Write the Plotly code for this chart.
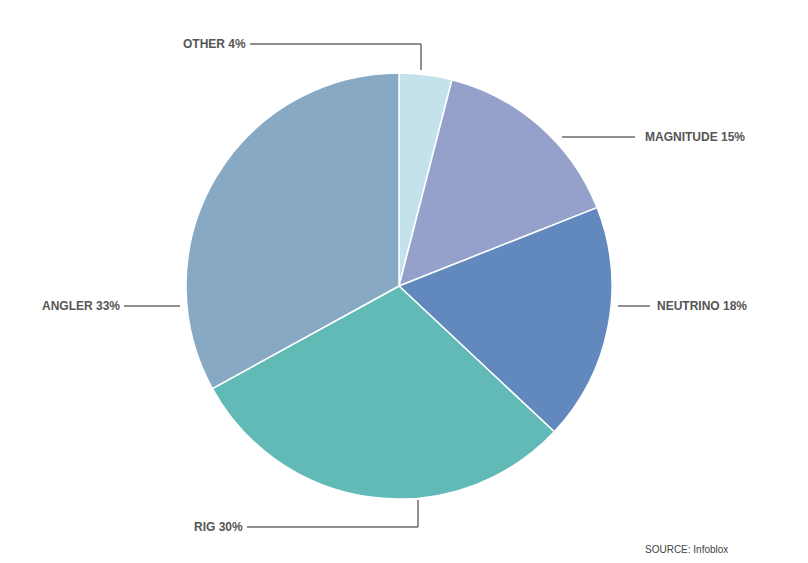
import plotly.graph_objects as go

labels = ["OTHER", "MAGNITUDE", "NEUTRINO", "RIG", "ANGLER"]
values = [4, 15, 18, 30, 33]
colors = ["#c4e2ec", "#96a1cb", "#6189bd", "#62bab6", "#87a9c3"]

# page body has an 8px margin, so the figure is 8px smaller and coordinates are shifted
OFF = 8
W, H = 808 - OFF, 563 - OFF
FONT = "Liberation Sans Narrow, Arial Narrow, sans-serif"
TXT = "#555555"
LINE = "#6a6a6a"

# Label layout (screen pixel coords): text anchor point, text alignment, leader polyline
label_layout = {
    "OTHER":     dict(tx=248, ty=44, anchor="right", path=[(250, 44), (421, 44), (421, 70)]),
    "MAGNITUDE": dict(tx=643, ty=137, anchor="left", path=[(562, 137), (635, 137)]),
    "NEUTRINO":  dict(tx=655, ty=306, anchor="left", path=[(618, 306), (650, 306)]),
    "RIG":       dict(tx=245, ty=527, anchor="right", path=[(247, 527), (418, 527), (418, 500)]),
    "ANGLER":    dict(tx=122, ty=306, anchor="right", path=[(124, 306), (180, 306)]),
}

def px(x):
    return (x - OFF) / W

def py(y):
    return 1 - (y - OFF) / H

cx, cy, r = 399, 286, 213

fig = go.Figure(go.Pie(
    labels=labels, values=values, sort=False, direction="clockwise", rotation=0,
    marker=dict(colors=colors, line=dict(color="white", width=1.5)),
    textinfo="none", hoverinfo="label+percent", showlegend=False,
    domain=dict(x=[px(cx - r), px(cx + r)], y=[py(cy + r), py(cy - r)]),
))

annotations = []
shapes = []
for lab, val in zip(labels, values):
    L = label_layout[lab]
    annotations.append(dict(
        x=px(L["tx"]), y=py(L["ty"]), xref="paper", yref="paper",
        text=f"<b>{lab} {val}%</b>", showarrow=False,
        xanchor=L["anchor"], yanchor="middle",
        font=dict(family=FONT, size=12, color=TXT),
    ))
    pts = L["path"]
    for (x0, y0), (x1, y1) in zip(pts[:-1], pts[1:]):
        shapes.append(dict(type="line", xref="paper", yref="paper",
                           x0=px(x0), y0=py(y0), x1=px(x1), y1=py(y1),
                           line=dict(color=LINE, width=1.5)))

annotations.append(dict(
    x=px(643), y=py(549), xref="paper", yref="paper", text="SOURCE: Infoblox",
    showarrow=False, xanchor="left", yanchor="middle",
    font=dict(family=FONT, size=10, color="#444444"),
))

fig.update_layout(
    width=W, height=H, margin=dict(l=0, r=0, t=0, b=0),
    paper_bgcolor="white", plot_bgcolor="white",
    annotations=annotations, shapes=shapes,
)

fig.write_html("out.html")
